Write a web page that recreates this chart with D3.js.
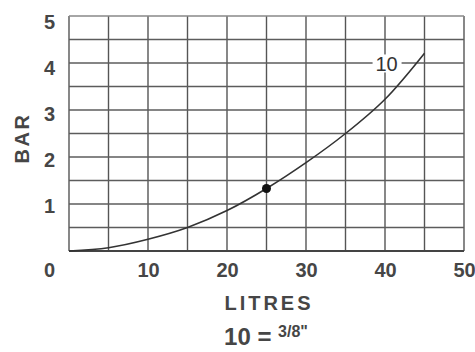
<!DOCTYPE html>
<html>
<head>
<meta charset="utf-8">
<script src="https://cdn.jsdelivr.net/npm/d3@7"></script>
<style>
  html, body { margin: 0; padding: 0; background: #fff; }
  svg text { font-family: "Liberation Sans", Arial, Helvetica, sans-serif; font-weight: bold; fill: #464646; }
</style>
</head>
<body>
<svg id="chart" width="475" height="352"></svg>
<script>
// Pressure drop vs flow for the 10 (3/8") line
const litres = [0, 5, 10, 15, 20, 25, 30, 35, 40, 45];
const bar    = [0, 0.07, 0.25, 0.5, 0.86, 1.33, 1.88, 2.5, 3.23, 4.21];
const marker = { litres: 25, bar: 1.33 };
const xTicks = [10, 20, 30, 40, 50];
const yTicks = [1, 2, 3, 4, 5];
const curveLabel = "10";

const svg = d3.select("#chart");
const x = d3.scaleLinear().domain([0, 50]).range([69, 464]);
const y = d3.scaleLinear().domain([0, 5]).range([251, 16]);
// bar numbers sit a touch lower than their grid lines and are set a little tighter
const yLabel = d3.scaleLinear().domain([1, 5]).range([206, 22]);

// grid: every 5 litres and every 0.5 bar
const grid = svg.append("g");
grid.selectAll("line.v").data(d3.range(0, 51, 5)).join("line")
  .attr("x1", d => x(d)).attr("x2", d => x(d))
  .attr("y1", y(0)).attr("y2", y(5))
  .attr("stroke", "#555").attr("stroke-width", 1.4);
grid.selectAll("line.h").data(d3.range(0, 5.01, 0.5)).join("line")
  .attr("x1", x(0)).attr("x2", x(50))
  .attr("y1", d => y(d)).attr("y2", d => y(d))
  .attr("stroke", d => d === 0 ? "#444" : (d === 5 ? "#888" : "#5c5c5c"))
  .attr("stroke-width", d => d === 0 ? 2 : 1.3);

// axis numbers (grid is drawn above)
const xAxis = svg.append("g").attr("transform", `translate(0,${y(0)})`)
  .call(d3.axisBottom(x).tickValues(xTicks).tickSize(0).tickPadding(12));
const yAxis = svg.append("g").attr("transform", `translate(${x(0)},0)`)
  .call(d3.axisLeft(yLabel).tickValues(yTicks).tickFormat(d3.format("d")).tickSize(0).tickPadding(14));
[xAxis, yAxis].forEach(a => {
  a.select(".domain").remove();
  a.selectAll("text").style("font-size", "20px").style("font-family", null).attr("fill", null);
});
// shared origin number
svg.append("text").attr("x", x(0) - 14).attr("y", y(0) + 12).attr("dy", "0.71em")
  .attr("text-anchor", "end").style("font-size", "20px").text("0");

// curve label with knocked-out background
const lx = x(40.2), ly = y(3.99);
svg.append("rect").attr("x", lx - 14).attr("y", ly - 9).attr("width", 29).attr("height", 18).attr("fill", "#fff");
svg.append("text").attr("x", lx).attr("y", ly).attr("dy", "0.36em")
  .attr("text-anchor", "middle").style("font-size", "20px").style("font-weight", "normal").style("fill", "#333").text(curveLabel);

// flow curve
const line = d3.line().x((d, i) => x(litres[i])).y(d => y(d)).curve(d3.curveCatmullRom.alpha(0.5));
svg.append("path").datum(bar).attr("d", line)
  .attr("fill", "none").attr("stroke", "#333").attr("stroke-width", 1.6);
svg.append("circle").attr("cx", x(marker.litres)).attr("cy", y(marker.bar)).attr("r", 4.5).attr("fill", "#111");

// axis titles
svg.append("text").attr("transform", "translate(29,138) rotate(-90)")
  .attr("text-anchor", "middle").style("font-size", "20px").style("letter-spacing", "2.5px").text("BAR");
svg.append("text").attr("x", 269).attr("y", 310)
  .attr("text-anchor", "middle").style("font-size", "20px").style("letter-spacing", "3px").text("LITRES");

// pipe size key: 10 = 3/8"
const key = svg.append("text").attr("x", 266).attr("y", 345).attr("text-anchor", "middle").style("font-size", "24px");
key.append("tspan").text("10 = ");
key.append("tspan").style("font-size", "16px").attr("dy", "-8").text("3/8\"");
</script>
</body>
</html>
